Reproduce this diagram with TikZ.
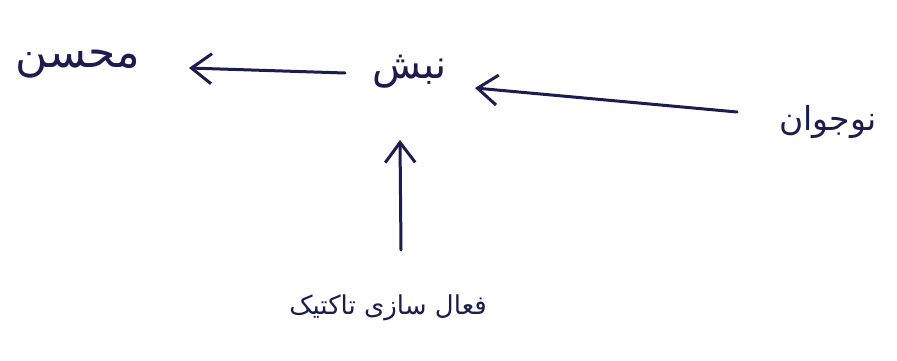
\documentclass[tikz,border=0pt]{standalone}
\usepackage{fontspec}
\newfontfamily\arabicfont[Script=Arabic]{DejaVu Sans}
\TeXXeTstate=1
\usetikzlibrary{arrows.meta}
\definecolor{ink}{HTML}{1C1C4E}
\tikzset{
  word/.style={text=ink, inner sep=0pt, font=\arabicfont},
  conn/.style={draw=ink, line width=3pt, line cap=round,
    -{Straight Barb[length=20pt,width=30pt,line width=3pt]}}
}
\begin{document}
\begin{tikzpicture}[x=1pt,y=-1pt]
\useasboundingbox (0,0) rectangle (897,361);
\node[word, font=\arabicfont\fontsize{44}{52}\selectfont] (mohsen) at (78,64) {\beginR محسن\endR};
\node[word, font=\arabicfont\fontsize{40}{48}\selectfont] (nabsh) at (410,72) {\beginR نبش\endR};
\node[word, font=\arabicfont\fontsize{33}{40}\selectfont] (nowjavan) at (828,122) {\beginR نوجوان\endR};
\node[word, font=\arabicfont\fontsize{26}{32}\selectfont] (faal) at (388,308) {\beginR فعال سازی تاکتیک\endR};
\coordinate (a1s) at (345,73);
\coordinate (a1e) at (189,68);
\coordinate (a2s) at (737,112);
\coordinate (a2e) at (475,88);
\coordinate (a3s) at (401,250);
\coordinate (a3e) at (400,140);
\draw[conn] (a1s) -- (a1e);
\draw[conn] (a2s) -- (a2e);
\draw[conn] (a3s) -- (a3e);
\end{tikzpicture}
\end{document}
